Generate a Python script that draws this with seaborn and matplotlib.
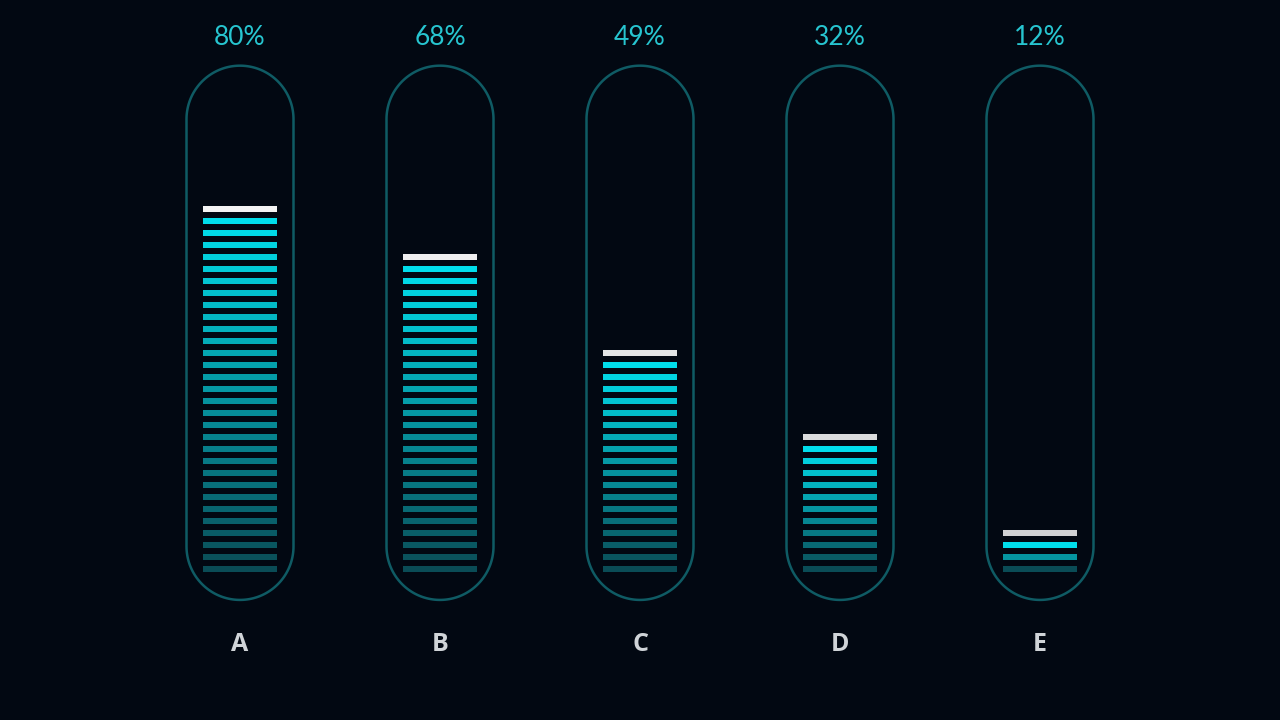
import numpy as np
import pandas as pd
import matplotlib
matplotlib.use("Agg")
import matplotlib.pyplot as plt
import seaborn as sns

# data
categories = ["A", "B", "C", "D", "E"]
values = [80, 68, 49, 32, 12]

# segment ladder (in value units)
seg_start = 4.2
seg_step = 2.45

bg = "#020812"
outline = "#0f5b64"
low_col = np.array([10, 76, 86]) / 255
high_col = np.array([0, 222, 236]) / 255

sns.set_theme(style="dark", rc={"axes.facecolor": bg, "figure.facecolor": bg})
plt.rcParams["font.family"] = ["Lato", "DejaVu Sans"]

# build segments table
rows = []
for i, (cat, v) in enumerate(zip(categories, values)):
    n = int(np.floor((v - seg_start) / seg_step)) + 1
    for k in range(n):
        level = seg_start + seg_step * k
        if k == n - 1:
            col = (1, 1, 1, 0.8 + 0.2 * v / 100)
        else:
            t = k / max(n - 2, 1)
            c = low_col + (high_col - low_col) * t
            col = (c[0], c[1], c[2], 1.0)
        rows.append({"cat": cat, "x": i, "level": level, "color": col})
seg_df = pd.DataFrame(rows)

fig = plt.figure(figsize=(12.8, 7.2), dpi=100)
ax = fig.add_axes([0, 0, 1, 1])
ax.set_xlim(-1.2, 5.2)
ax.set_ylim(-26.6, 120.3)
ax.axis("off")

# px -> data scales
px_x = 1 / 200
px_y = 1 / 4.9

# capsules
rx = 53.5 * px_x
ry = 53.5 * px_y
cap_top = 106.9
cap_bot = -2.1
for i in range(len(categories)):
    th1 = np.linspace(0, np.pi, 80)
    th2 = np.linspace(np.pi, 2 * np.pi, 80)
    xs = np.concatenate([i + rx * np.cos(th1), i + rx * np.cos(th2)])
    ys = np.concatenate([cap_top - ry + ry * np.sin(th1),
                         cap_bot + ry + ry * np.sin(th2)])
    ax.fill(xs, ys, facecolor="none", edgecolor=outline, lw=1.8)

# segments
seg_h = 5.5 * px_y
ax.bar(seg_df["x"], seg_h, bottom=seg_df["level"] - seg_h / 2, width=74 * px_x,
       color=list(seg_df["color"]), linewidth=0)

# labels
for i, (cat, v) in enumerate(zip(categories, values)):
    ax.text(i, (589.6 - 38) * px_y, f"{v}%", ha="center", va="center",
            fontsize=19, color="#27c5d0", fontweight="normal")
    ax.text(i, (589.6 - 644) * px_y, cat, ha="center", va="center",
            fontsize=18, color="#d0d4d8", fontweight="bold",
            family=["Open Sans", "DejaVu Sans"])

fig.savefig("out.png", dpi=100, facecolor=bg)
